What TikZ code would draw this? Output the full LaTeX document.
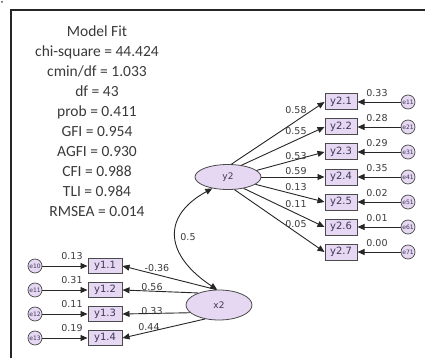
\documentclass[tikz,border=0pt]{standalone}
\usepackage{fontspec}
\setmainfont{Carlito}
\newfontfamily\dgfont{DejaVu Sans}
\usetikzlibrary{arrows.meta,shapes.geometric}
\definecolor{lav}{HTML}{E6D8F2}
\definecolor{edgec}{HTML}{4A4A4A}
\definecolor{txt}{HTML}{3A3A3A}
\definecolor{boxtxt}{HTML}{3C3658}
\begin{document}
\begin{tikzpicture}[x=1pt,y=-1pt,
  lat/.style={ellipse,draw=edgec,fill=lav,line width=0.8pt,minimum width=66pt,minimum height=25pt,inner sep=0pt,font=\dgfont\fontsize{9}{10}\selectfont,text=boxtxt},
  obs/.style={rectangle,draw=edgec,fill=lav,line width=1pt,minimum width=32pt,minimum height=16pt,inner sep=0pt,font=\dgfont\fontsize{10}{11}\selectfont,text=boxtxt},
  err/.style={circle,draw=edgec,fill=lav,line width=0.7pt,minimum size=14pt,inner sep=0pt,font=\dgfont\fontsize{6}{6}\selectfont,text=boxtxt},
  lbl/.style={font=\dgfont\fontsize{9.5}{10}\selectfont,inner sep=0pt,text=txt},
  arr/.style={-{Triangle[length=7pt,width=6pt]},line width=0.9pt,draw=black!85},
  darr/.style={{Triangle[length=7pt,width=6pt]}-{Triangle[length=7pt,width=6pt]},line width=0.9pt,draw=black!85},
]
\useasboundingbox (0,0) rectangle (425,358);
\fill[black!70] (2,2) circle (1);
\draw[line width=1.5pt,black!85] (11,358) -- (11,10) -- (425,10);

\node[font=\fontsize{15.5}{20}\selectfont,align=center,text=txt] (fit) at (97,121)
 {Model Fit\\chi-square = 44.424\\cmin/df = 1.033\\df = 43\\prob = 0.411\\GFI = 0.954\\AGFI = 0.930\\CFI = 0.988\\TLI = 0.984\\RMSEA = 0.014};

% latent variables
\node[lat] (y2) at (228,177) {y2};
\node[lat,minimum width=66pt,minimum height=30pt] (x2) at (219,305) {x2};

% right indicators
\foreach \i/\yy/\ang/\c/\cy/\e in {1/102/75/0.58/110/0.33,2/127/41/0.55/131/0.28,3/152/13/0.53/156/0.29,4/177/0/0.59/171/0.35,5/202/345/0.13/187/0.02,6/227/324/0.11/204/0.01,7/252/297/0.05/224/0.00}{
  \node[obs] (y2\i) at (341,\yy) {y2.\i};
  \node[err] (e\i1) at (408,\yy) {e\i1};
  \draw[arr] (y2.\ang) -- (y2\i.west);
  \draw[arr] (e\i1) -- (y2\i.east);
  \node[lbl] (c2\i) at (296,\cy) {\c};
  \node[lbl] (r2\i) at (377,\yy-9) {\e};
}

% left indicators
\foreach \i/\yy/\ang/\c/\cx/\cy/\e in {1/266/100/-0.36/157/268/0.13,2/290/150/0.56/152/287/0.31,3/314/195/0.33/152/311/0.11,4/338/225/0.44/149/327/0.19}{
  \node[obs,minimum width=34pt,minimum height=15pt] (y1\i) at (105,\yy) {y1.\i};
  \pgfmathtruncatemacro{\en}{9+\i}
  \node[err] (ee\i) at (35,\yy) {e\en};
  \draw[arr] (x2.\ang) -- (y1\i.east);
  \draw[arr] (ee\i) -- (y1\i.west);
  \node[lbl] (c1\i) at (\cx,\cy) {\c};
  \node[lbl] (r1\i) at (72,\yy-10) {\e};
}

% covariance
\draw[darr] (x2.97) .. controls (166,256) and (160,217) .. (y2.216);
\node[lbl] (cov) at (188,237) {0.5};
\end{tikzpicture}
\end{document}
